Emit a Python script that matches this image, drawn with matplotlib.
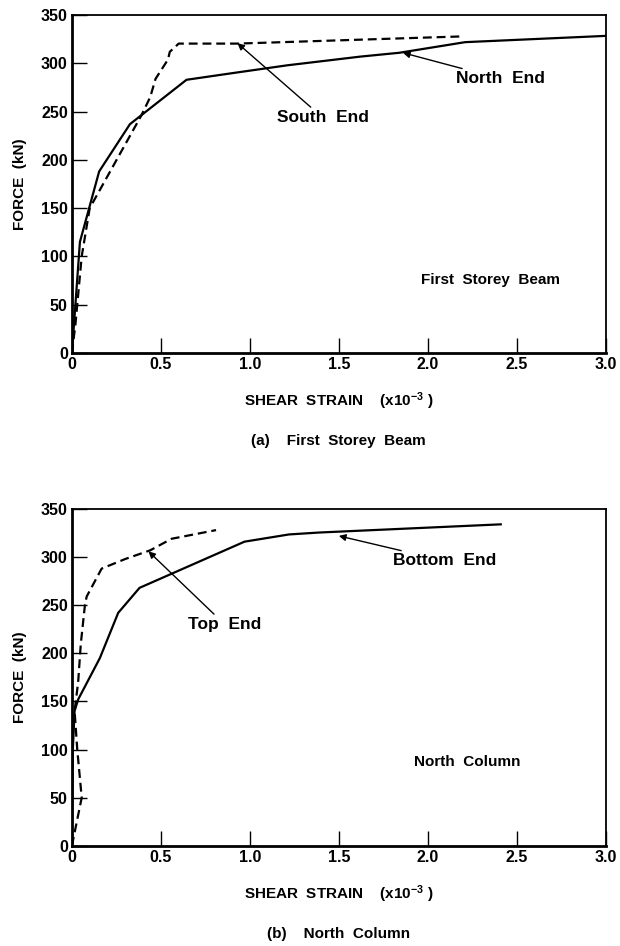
import matplotlib
matplotlib.use('Agg')
import matplotlib.pyplot as plt
import numpy as np

plt.rcParams['font.family'] = ['Liberation Sans', 'DejaVu Sans']
plt.rcParams['font.weight'] = 'bold'
plt.rcParams['mathtext.default'] = 'regular'

# (a) First Storey Beam
beam_north_x = [0, 0.045, 0.153, 0.326, 0.644, 0.906, 1.21, 1.62, 1.84, 2.21, 3.0]
beam_north_f = [0, 115, 188, 237, 283, 290, 298, 307, 311, 322, 328.5]
beam_south_x = [0, 0.02, 0.055, 0.10, 0.39, 0.44, 0.47, 0.54, 0.55, 0.60, 0.93, 2.2]
beam_south_f = [0, 30, 100, 150, 246, 265, 284, 304, 312, 320.5, 320.5, 328]

# (b) North Column
col_bottom_x = [0, 0.005, 0.015, 0.035, 0.157, 0.26, 0.38, 0.97, 1.22, 1.39, 2.41]
col_bottom_f = [0, 100, 140, 152, 195, 242, 268, 316, 323.5, 325.5, 334]
col_top_x = [0, 0.055, 0.03, 0.015, 0.035, 0.05, 0.073, 0.083, 0.167, 0.30, 0.44, 0.56, 0.81]
col_top_f = [0, 50, 100, 140, 170, 210, 250, 259, 288, 298, 307, 319, 328]

xticks = [0, 0.5, 1.0, 1.5, 2.0, 2.5, 3.0]
xticklabels = ['0', '0.5', '1.0', '1.5', '2.0', '2.5', '3.0']
yticks = [0, 50, 100, 150, 200, 250, 300, 350]

fig = plt.figure(figsize=(6.2, 9.46), dpi=100)
ax1 = fig.add_axes([0.116, 0.627, 0.861, 0.357])
ax2 = fig.add_axes([0.116, 0.106, 0.861, 0.356])


def style_axes(ax, caption):
    ax.set_xlim(0, 3.0)
    ax.set_ylim(0, 350)
    ax.set_xticks(xticks)
    ax.set_xticklabels(xticklabels)
    ax.set_yticks(yticks)
    ax.tick_params(direction='in', length=11, width=1.0, labelsize=11.5, pad=3)
    for lab in ax.get_xticklabels() + ax.get_yticklabels():
        lab.set_fontweight('bold')
    for s in ['left', 'bottom']:
        ax.spines[s].set_linewidth(2.0)
    for s in ['top', 'right']:
        ax.spines[s].set_linewidth(1.3)
    ax.set_xlabel('SHEAR  STRAIN    (x10$^{-3}$ )', fontsize=11,
                  fontweight='bold', labelpad=13)
    ax.set_ylabel('FORCE  (kN)', fontsize=11, fontweight='bold', labelpad=10)
    ax.text(0.5, -0.262, caption, transform=ax.transAxes, ha='center',
            va='center', fontsize=11, fontweight='bold')


arrow = dict(arrowstyle='-|>', color='black', lw=1.0,
             shrinkA=0, shrinkB=0, mutation_scale=10)

ax1.plot(beam_north_x, beam_north_f, color='black', lw=1.6)
ax1.plot(beam_south_x, beam_south_f, color='black', lw=1.6, dashes=(4, 2.2))
ax1.annotate('South  End', xy=(0.93, 321), xytext=(1.15, 244),
             fontsize=12.5, fontweight='bold', va='center', ha='left',
             arrowprops=arrow)
ax1.annotate('North  End', xy=(1.86, 311), xytext=(2.16, 284),
             fontsize=12.5, fontweight='bold', va='center', ha='left',
             arrowprops=arrow)
ax1.text(1.96, 76, 'First  Storey  Beam', fontsize=11, fontweight='bold',
         va='center', ha='left')
style_axes(ax1, '(a)    First  Storey  Beam')

ax2.plot(col_bottom_x, col_bottom_f, color='black', lw=1.6)
ax2.plot(col_top_x, col_top_f, color='black', lw=1.6, dashes=(4, 2.2))
ax2.annotate('Top  End', xy=(0.43, 306), xytext=(0.653, 230),
             fontsize=12.5, fontweight='bold', va='center', ha='left',
             arrowprops=arrow)
ax2.annotate('Bottom  End', xy=(1.50, 322), xytext=(1.805, 296),
             fontsize=12.5, fontweight='bold', va='center', ha='left',
             arrowprops=arrow)
ax2.text(1.92, 87, 'North  Column', fontsize=11, fontweight='bold',
         va='center', ha='left')
style_axes(ax2, '(b)    North  Column')

fig.savefig('out.png', dpi=100)
